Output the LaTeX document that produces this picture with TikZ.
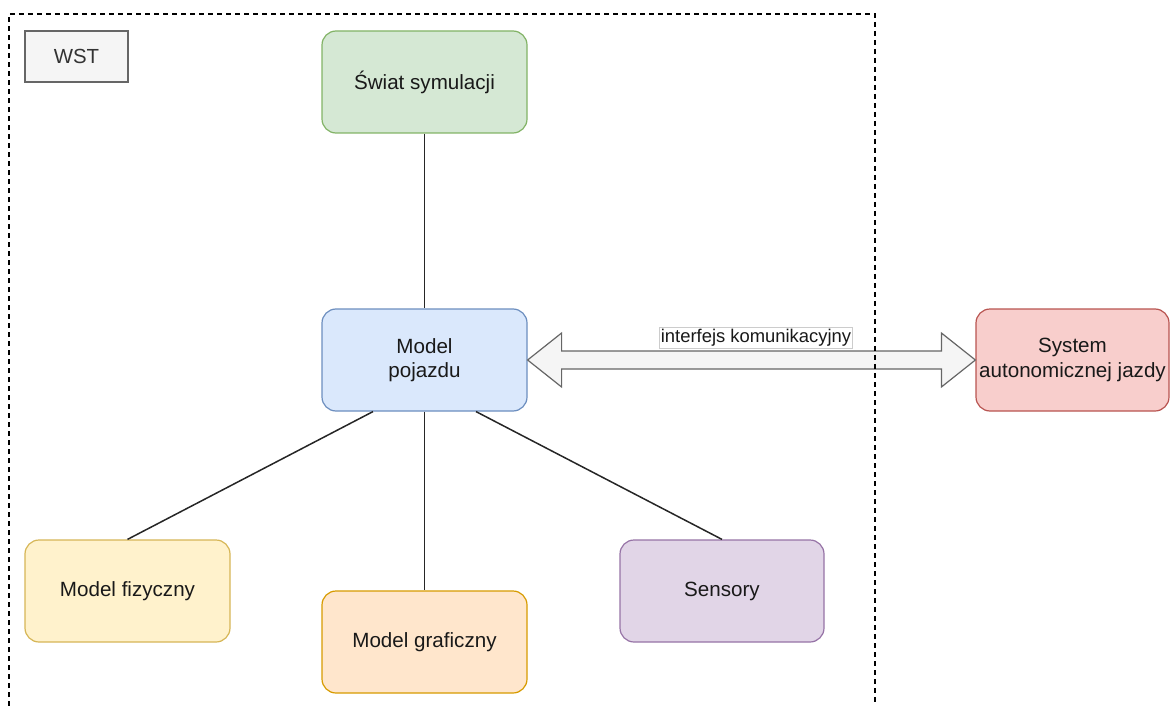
\documentclass[tikz,border=0pt]{standalone}
\usepackage{fontspec}
\setmainfont{Liberation Sans}
\usetikzlibrary{calc}
\definecolor{gfill}{HTML}{D5E8D4}\definecolor{gdraw}{HTML}{82B366}
\definecolor{bfill}{HTML}{DAE8FC}\definecolor{bdraw}{HTML}{6C8EBF}
\definecolor{rfill}{HTML}{F8CECC}\definecolor{rdraw}{HTML}{B85450}
\definecolor{yfill}{HTML}{FFF2CC}\definecolor{ydraw}{HTML}{D6B656}
\definecolor{ofill}{HTML}{FFE6CC}\definecolor{odraw}{HTML}{D79B00}
\definecolor{pfill}{HTML}{E1D5E7}\definecolor{pdraw}{HTML}{9673A6}
\definecolor{nfill}{HTML}{F5F5F5}\definecolor{ndraw}{HTML}{666666}
\definecolor{ntext}{HTML}{333333}
\tikzset{
  box/.style={draw, rounded corners=14pt, minimum width=205pt, minimum height=102pt,
    line width=1.2pt, align=center, inner sep=0pt,
    font=\fontsize{20.6}{24.5}\selectfont, text=black!90},
  link/.style={line width=1.5pt, black!85},
}
\begin{document}
\begin{tikzpicture}[x=1pt,y=-1pt]
\useasboundingbox (0,0) rectangle (1170,706);
% WST label box
\node[draw=ndraw, fill=nfill, line width=1.2pt, minimum width=103pt, minimum height=51pt,
  inner sep=0pt, text=ntext, font=\fontsize{20.4}{24.5}\selectfont] (wst) at (76.5,56.5) {WST};
% boxes
\node[box, fill=gfill, draw=gdraw] (sw) at (424.5,82) {Świat symulacji};
\node[box, fill=bfill, draw=bdraw] (mp) at (424.5,360) {Model\\pojazdu};
\node[box, fill=rfill, draw=rdraw, minimum width=193pt] (saj) at (1072.5,360) {System\\autonomicznej jazdy};
\node[box, fill=yfill, draw=ydraw] (mf) at (127.5,591) {Model fizyczny};
\node[box, fill=ofill, draw=odraw] (mg) at (424.5,642) {Model graficzny};
\node[box, fill=pfill, draw=pdraw, minimum width=204pt] (se) at (722,591) {Sensory};
% connectors
\draw[link] (sw.south) -- (mp.north);
\draw[link] (mp.south) -- (mg.north);
\draw[link] ($(mp.south west)!0.25!(mp.south east)$) -- (mf.north);
\draw[link] ($(mp.south west)!0.75!(mp.south east)$) -- (se.north);
% double block arrow
\coordinate (A) at (mp.east);
\coordinate (B) at (saj.west);
\draw[draw=ndraw, fill=nfill, line width=1.2pt, line join=miter]
  (A) -- ($(A)+(34,-27)$) -- ($(A)+(34,-9)$) -- ($(B)+(-34,-9)$) -- ($(B)+(-34,-27)$) --
  (B) -- ($(B)+(-34,27)$) -- ($(B)+(-34,9)$) -- ($(A)+(34,9)$) -- ($(A)+(34,27)$) -- cycle;
\node[fill=white, draw=black!20, line width=0.8pt, inner xsep=1.5pt, inner ysep=2pt,
  font=\fontsize{18.4}{21}\selectfont, text=black!90] (lbl) at (756,337.5) {interfejs komunikacyjny};
% dashed frame (on top)
\draw[line width=1.3pt, dash pattern=on 5pt off 4pt] (9,706) -- (9,14) -- (875,14) -- (875,706);
\end{tikzpicture}
\end{document}
